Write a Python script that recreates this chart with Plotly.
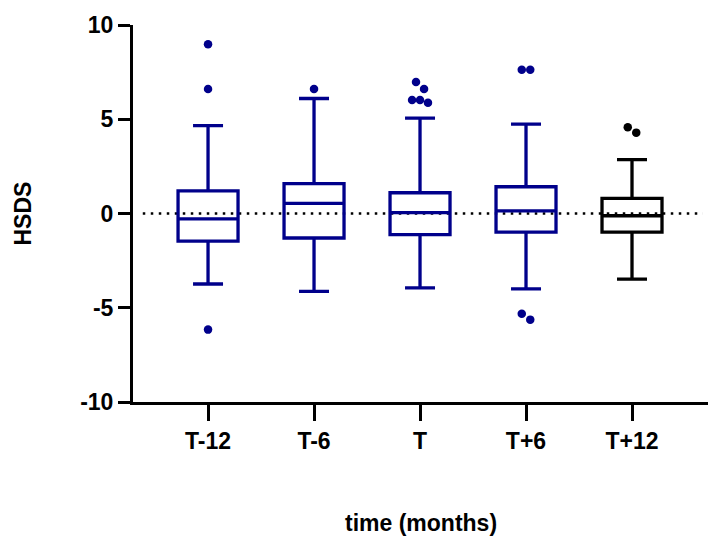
import plotly.graph_objects as go

categories = ["T-12", "T-6", "T", "T+6", "T+12"]
q1 = [-1.47, -1.30, -1.12, -0.99, -0.99]
median = [-0.28, 0.54, 0.05, 0.14, -0.12]
q3 = [1.20, 1.59, 1.10, 1.42, 0.80]
lower_whisker = [-3.74, -4.13, -3.95, -4.00, -3.48]
upper_whisker = [4.66, 6.10, 5.06, 4.74, 2.86]

y_tick_values = [-10, -5, 0, 5, 10]
y_tick_labels = ["-10", "-5", "0", "5", "10"]

# outliers: (category index, value)
outlier_group = [0, 0, 0, 1, 2, 2, 2, 2, 2, 3, 3, 3, 3, 4, 4]
outlier_value = [8.98, 6.60, -6.16, 6.61, 6.98, 6.61, 6.02, 6.02, 5.88,
                 7.63, 7.63, -5.32, -5.63, 4.58, 4.29]
# horizontal spread of overlapping points (fraction of category spacing)
outlier_spread = [0, 0, 0, 0, -0.038, 0.038, -0.075, 0, 0.075,
                  -0.04, 0.04, -0.04, 0.04, -0.04, 0.04]

NAVY = "#00008B"
colors = [NAVY, NAVY, NAVY, NAVY, "#000000"]
FONT = "Arial, Liberation Sans, sans-serif"
FS = 23

fig = go.Figure()
for i, cat in enumerate(categories):
    fig.add_trace(go.Box(
        x=[i], q1=[q1[i]], median=[median[i]], q3=[q3[i]],
        lowerfence=[lower_whisker[i]], upperfence=[upper_whisker[i]],
        width=0.566, whiskerwidth=0.5,
        line=dict(color=colors[i], width=3.3),
        fillcolor="rgba(0,0,0,0)",
        boxpoints=False, showlegend=False, hoverinfo="skip",
    ))
    xs = [outlier_group[k] + outlier_spread[k] for k in range(len(outlier_group)) if outlier_group[k] == i]
    ys = [outlier_value[k] for k in range(len(outlier_group)) if outlier_group[k] == i]
    fig.add_trace(go.Scatter(
        x=xs, y=ys, mode="markers",
        marker=dict(color=colors[i], size=8.5, line=dict(width=0)),
        showlegend=False, hoverinfo="skip",
    ))

fig.add_shape(type="line", xref="paper", yref="y", x0=0.017, x1=0.991, y0=0, y1=0,
              line=dict(color="black", width=2.5, dash="2.5px,5.5px"), layer="below")

fig.update_layout(
    width=720, height=550,
    margin=dict(l=133, r=12, t=21, b=148),
    plot_bgcolor="white", paper_bgcolor="white",
    font=dict(family=FONT, size=FS, color="black"),
    xaxis=dict(
        range=[-0.708, 4.717], tickmode="array",
        tickvals=list(range(len(categories))), ticktext=categories,
        showgrid=False, zeroline=False,
        showline=True, linecolor="black", linewidth=3,
        ticks="outside", ticklen=16, tickwidth=3, tickcolor="black",
        tickfont=dict(family=FONT, size=FS, color="black", weight="bold"),
    ),
    yaxis=dict(
        range=[-10, 10], tickmode="array",
        tickvals=y_tick_values, ticktext=y_tick_labels,
        showgrid=False, zeroline=False,
        showline=True, linecolor="black", linewidth=3,
        ticks="outside", ticklen=12, tickwidth=3, tickcolor="black",
        tickfont=dict(family=FONT, size=FS, color="black", weight="bold"),
    ),
    annotations=[
        dict(text="time (months)", xref="paper", yref="paper",
             x=0.5, y=(550 - 524 - 148) / 381.0, xanchor="center", yanchor="middle",
             showarrow=False, font=dict(family=FONT, size=FS, color="black", weight="bold")),
        dict(text="HSDS", xref="paper", yref="paper",
             x=(22 - 133) / 575.0, y=0.5, xanchor="center", yanchor="middle",
             textangle=-90, showarrow=False,
             font=dict(family=FONT, size=FS, color="black", weight="bold")),
    ],
)

fig.write_html("out.html")
